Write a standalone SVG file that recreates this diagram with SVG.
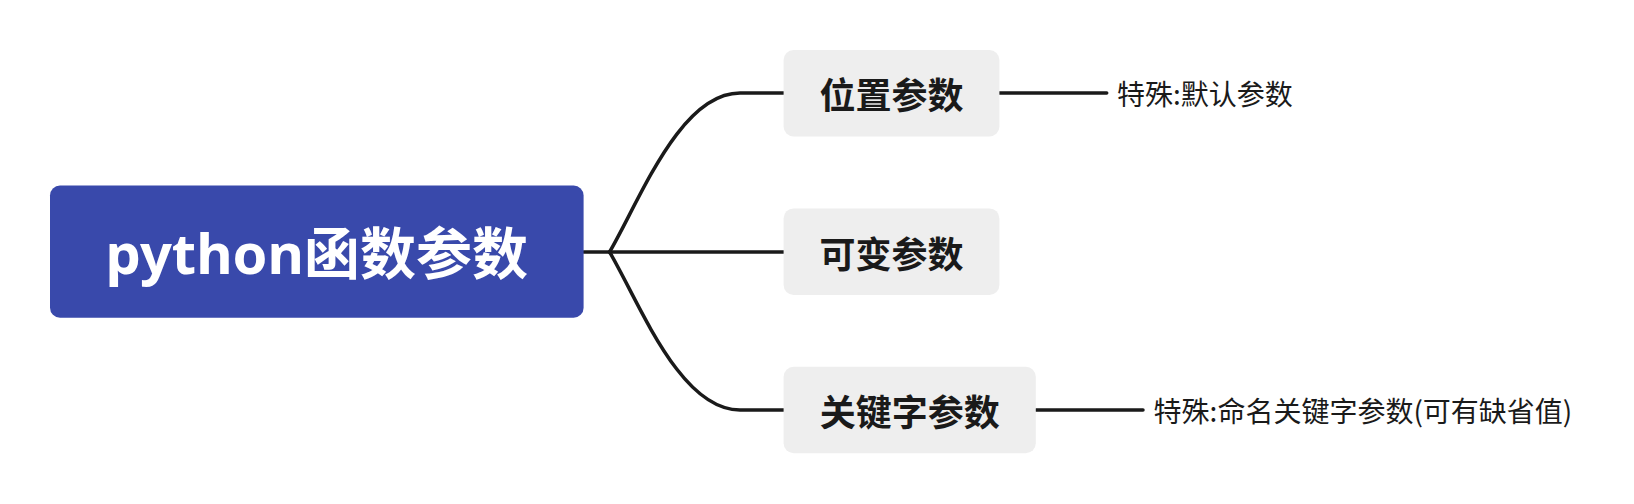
<svg xmlns="http://www.w3.org/2000/svg" width="1634" height="504" viewBox="0 0 1634 504">
<style>
.bg{fill:#ffffff}
.root{fill:#3949ab}
.topic{fill:#eeeeee}
.rt{font-family:"Noto Sans","Noto Sans CJK SC",sans-serif;font-weight:700;font-size:56px;fill:#ffffff}
.tt{font-family:"Noto Sans CJK SC",sans-serif;font-weight:700;font-size:36px;fill:#1a1a1a}
.lt{font-family:"Noto Sans CJK SC",sans-serif;font-weight:400;font-size:28px;fill:#1a1a1a}
.ln{fill:none;stroke:#1a1a1a;stroke-width:3.5;stroke-linecap:round}
</style>
<rect class="bg" x="0" y="0" width="1634" height="504"/>
<g id="connectors">
<path class="ln" d="M583.6,252 L609.6,252"/>
<path class="ln" d="M609.6,252 C640,200 680,93 740,93 L783.6,93"/>
<path class="ln" d="M609.6,252 L783.6,252"/>
<path class="ln" d="M609.6,252 C640,304 680,410 740,410 L783.6,410"/>
<path class="ln" d="M999.4,93 L1106.7,93"/>
<path class="ln" d="M1035.8,410 L1143,410"/>
</g>
<g id="root">
<rect class="root" x="50" y="185.5" width="533.6" height="132.3" rx="10"/>
<text class="rt" x="316.8" y="252" text-anchor="middle" dominant-baseline="central">python函数参数</text>
</g>
<g id="pos">
<rect class="topic" x="783.6" y="50" width="215.8" height="86.5" rx="10"/>
<text class="tt" x="891.5" y="93.3" text-anchor="middle" dominant-baseline="central">位置参数</text>
</g>
<g id="var">
<rect class="topic" x="783.6" y="208.4" width="215.8" height="86.6" rx="10"/>
<text class="tt" x="891.5" y="251.7" text-anchor="middle" dominant-baseline="central">可变参数</text>
</g>
<g id="kw">
<rect class="topic" x="783.6" y="366.8" width="252.2" height="86.5" rx="10"/>
<text class="tt" x="909.7" y="410" text-anchor="middle" dominant-baseline="central">关键字参数</text>
</g>
<g id="leaf-default">
<text class="lt" x="1117" y="93" dominant-baseline="central">特殊:默认参数</text>
</g>
<g id="leaf-named">
<text class="lt" x="1153.6" y="410" dominant-baseline="central">特殊:命名关键字参数(可有缺省值)</text>
</g>
</svg>
